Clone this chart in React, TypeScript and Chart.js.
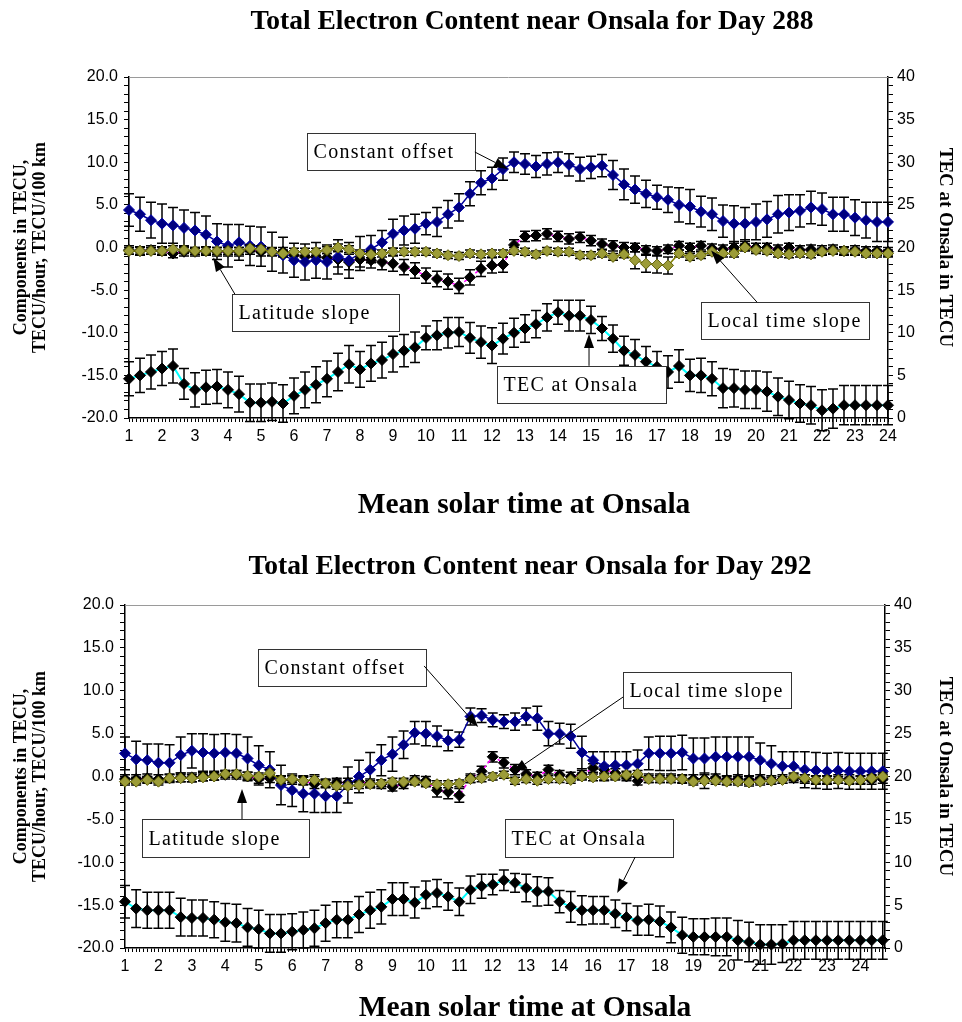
import React, { useEffect, useRef } from 'react';
import { Chart, registerables } from 'chart.js';

Chart.register(...registerables);

const SERIF = '"Liberation Serif", "Times New Roman", Times, serif';
const SANS = '"Liberation Sans", Arial, Helvetica, sans-serif';

// ---------------- shared text ----------------
const xTitleText = 'Mean solar time at Onsala';
const leftTitleText = ['Components in TECU,', 'TECU/hour, TECU/100 km'];
const rightTitleText = 'TEC at Onsala in TECU';
const leftTickValues = [-20, -15, -10, -5, 0, 5, 10, 15, 20];
const rightTickValues = [0, 5, 10, 15, 20, 25, 30, 35, 40];

// ---------------- Day 288 ----------------
const title288 = 'Total Electron Content near Onsala for Day 288';
const hourLabels288 = ['1','2','3','4','5','6','7','8','9','10','11','12','13','14','15','16','17','18','19','20','21','22','23','24'];

const offset288 = [
  4.4, 3.9, 3.2, 2.8, 2.6, 2.3, 2.0, 1.5, 0.7, 0.2,
  0.6, 0.2, 0.1, -0.5, -0.9, -1.5, -1.7, -1.5, -1.7, -1.1,
  -1.5, -0.7, -0.2, 0.6, 1.6, 2.0, 2.2, 2.8, 3.0, 3.9,
  4.7, 6.3, 7.6, 8.1, 9.2, 10.0, 9.8, 9.5, 9.8, 10.0,
  9.7, 9.2, 9.4, 9.6, 8.5, 7.4, 6.8, 6.3, 5.9, 5.6,
  5.0, 4.8, 4.2, 3.9, 3.1, 2.8, 2.8, 3.0, 3.3, 3.9,
  4.1, 4.3, 4.7, 4.5, 3.9, 3.9, 3.5, 3.2, 3.0, 3.0,
];
const offsetErr288 = [
  1.9, 2.0, 2.1, 2.3, 2.1, 2.1, 2.1, 2.2, 2.1, 2.5,
  2.1, 2.3, 2.3, 2.3, 2.1, 2.0, 2.1, 2.1, 2.0, 2.0,
  2.1, 2.0, 1.6, 1.4, 1.7, 1.7, 1.7, 1.3, 1.7, 1.6,
  1.6, 1.4, 1.4, 1.3, 1.3, 1.2, 1.2, 1.3, 1.3, 1.2,
  1.3, 1.4, 1.3, 1.3, 1.7, 1.8, 1.6, 1.6, 1.4, 1.5,
  2.0, 2.0, 1.8, 1.9, 1.9, 2.1, 1.9, 2.1, 2.1, 2.2,
  2.1, 1.9, 1.9, 1.9, 2.0, 2.0, 2.1, 2.1, 2.3, 2.3,
];
const latitude288 = [
  -0.4, -0.4, -0.4, -0.4, -0.2, -0.3, -0.4, -0.4, -0.4, -0.4,
  -0.4, -0.1, -0.2, -0.5, -0.7, -0.5, -0.5, -0.5, -0.3, 0.0,
  -0.2, -0.7, -0.8, -0.7, -0.5, -0.5, -0.5, -0.5, -0.7, -0.9,
  -1.0, -0.7, -0.8, -0.7, -0.7, -0.4, -0.5, -0.8, -0.4, -0.5,
  -0.5, -0.9, -0.9, -0.7, -1.1, -0.8, -1.5, -1.9, -2.0, -2.1,
  -0.7, -1.1, -0.9, -0.5, -0.7, -0.7, 0.0, -0.3, -0.4, -0.7,
  -0.8, -0.7, -0.8, -0.5, -0.4, -0.4, -0.5, -0.7, -0.7, -0.7,
];
const latitudeErr288 = [
  0.4, 0.4, 0.4, 0.4, 0.4, 0.4, 0.4, 0.4, 0.4, 0.4,
  0.4, 0.4, 0.4, 0.4, 0.4, 0.4, 0.4, 0.4, 0.4, 0.4,
  0.4, 0.4, 0.4, 0.4, 0.4, 0.4, 0.4, 0.4, 0.4, 0.4,
  0.4, 0.4, 0.4, 0.4, 0.4, 0.4, 0.4, 0.4, 0.4, 0.4,
  0.4, 0.4, 0.4, 0.4, 0.4, 0.4, 1.0, 1.0, 1.0, 1.0,
  0.4, 0.4, 0.4, 0.4, 0.4, 0.4, 0.4, 0.4, 0.4, 0.4,
  0.4, 0.4, 0.4, 0.4, 0.4, 0.4, 0.4, 0.4, 0.4, 0.4,
];
const localTime288 = [
  -0.3, -0.4, -0.3, -0.4, -0.7, -0.5, -0.5, -0.4, -0.5, -0.5,
  -0.5, -0.3, -0.5, -0.5, -0.5, -0.9, -1.1, -1.1, -1.2, -1.4,
  -1.7, -1.4, -1.5, -1.7, -1.9, -2.3, -2.7, -3.3, -3.7, -4.0,
  -4.5, -3.5, -2.5, -2.1, -2.0, 0.3, 1.3, 1.4, 1.6, 1.3,
  1.0, 1.2, 0.8, 0.4, 0.2, 0.0, 0.0, -0.3, -0.4, -0.2,
  0.2, 0.0, 0.2, -0.1, -0.2, 0.0, 0.2, 0.0, 0.0, -0.2,
  0.0, -0.3, -0.2, -0.3, -0.2, -0.4, -0.3, -0.4, -0.4, -0.5,
];
const localTimeErr288 = [
  0.5, 0.5, 0.5, 0.5, 0.5, 0.5, 0.5, 0.5, 0.5, 0.5,
  0.5, 0.5, 0.5, 0.5, 0.5, 0.5, 0.5, 0.5, 0.5, 0.9,
  0.9, 0.9, 0.9, 0.9, 0.9, 0.9, 0.9, 0.9, 0.9, 0.9,
  0.9, 0.9, 0.9, 0.9, 0.9, 0.6, 0.6, 0.6, 0.6, 0.6,
  0.6, 0.6, 0.6, 0.6, 0.6, 0.6, 0.5, 0.5, 0.5, 0.5,
  0.5, 0.5, 0.5, 0.5, 0.5, 0.5, 0.5, 0.5, 0.5, 0.5,
  0.5, 0.5, 0.5, 0.5, 0.5, 0.5, 0.5, 0.5, 0.5, 0.5,
];
const tec288 = [
  4.6, 5.0, 5.4, 5.8, 6.1, 4.0, 3.3, 3.6, 3.7, 3.3,
  2.8, 1.8, 1.8, 1.9, 1.7, 2.6, 3.3, 3.9, 4.6, 5.4,
  6.3, 5.7, 6.4, 6.8, 7.5, 7.9, 8.3, 9.4, 9.7, 10.0,
  10.1, 9.4, 8.9, 8.5, 9.3, 10.0, 10.5, 11.0, 11.8, 12.4,
  12.0, 12.0, 11.5, 10.5, 9.3, 7.9, 7.4, 6.6, 6.0, 5.4,
  6.1, 5.0, 5.0, 4.6, 3.5, 3.5, 3.3, 3.3, 3.1, 2.5,
  2.1, 1.7, 1.5, 0.9, 1.1, 1.5, 1.5, 1.5, 1.5, 1.5,
];
const tecErr288 = [
  2.0, 2.0, 2.0, 2.0, 2.0, 1.8, 2.0, 2.0, 2.0, 2.1,
  2.1, 2.2, 2.2, 2.2, 2.2, 2.1, 2.1, 2.1, 2.1, 2.2,
  2.2, 2.1, 2.1, 2.1, 2.1, 1.9, 1.8, 1.4, 1.7, 1.8,
  1.7, 1.8, 1.9, 2.1, 1.8, 1.7, 1.6, 1.6, 1.6, 1.4,
  1.8, 1.8, 1.6, 1.4, 1.6, 1.7, 1.8, 1.8, 1.8, 1.9,
  1.9, 1.9, 2.0, 2.0, 2.3, 2.2, 2.2, 2.2, 2.3, 2.2,
  2.2, 2.2, 2.2, 2.4, 2.3, 2.3, 2.3, 2.3, 2.3, 2.3,
];

// ---------------- Day 292 ----------------
const title292 = 'Total Electron Content near Onsala for Day 292';
const hourLabels292 = ['1','2','3','4','5','6','7','8','9','10','11','12','13','14','16','17','18','19','20','21','22','23','24'];

const offset292 = [
  2.7, 2.0, 1.9, 1.6, 1.6, 2.5, 3.0, 2.8, 2.7, 2.8,
  2.7, 2.1, 1.3, 0.8, -1.0, -1.6, -2.0, -2.0, -2.3, -2.3,
  -1.0, 0.0, 0.8, 1.9, 2.6, 3.7, 5.1, 5.0, 4.7, 4.2,
  4.3, 7.0, 7.1, 6.6, 6.4, 6.4, 7.0, 6.8, 5.0, 5.0,
  4.7, 2.8, 1.9, 1.2, 1.3, 1.3, 1.5, 2.7, 2.7, 2.7,
  2.8, 2.1, 2.1, 2.3, 2.3, 2.3, 2.3, 1.9, 1.5, 1.2,
  1.2, 0.8, 0.7, 0.6, 0.7, 0.6, 0.6, 0.6, 0.6,
];
const offsetErr292 = [
  1.9, 2.1, 1.9, 2.2, 2.1, 2.1, 2.0, 2.2, 2.2, 2.2,
  2.2, 2.5, 2.3, 2.1, 2.3, 1.9, 2.1, 2.2, 1.9, 1.9,
  2.1, 1.9, 2.0, 1.8, 2.0, 1.6, 1.3, 1.4, 1.2, 1.2,
  0.9, 1.0, 0.8, 0.8, 0.8, 1.0, 1.0, 1.4, 1.4, 1.2,
  1.4, 1.9, 1.0, 1.7, 1.6, 1.6, 1.6, 1.9, 2.0, 2.0,
  2.0, 2.4, 2.4, 2.3, 2.3, 2.3, 2.3, 2.0, 2.1, 1.7,
  1.7, 2.1, 2.1, 2.1, 2.1, 2.1, 2.1, 2.1, 2.1,
];
const latitude292 = [
  -0.6, -0.6, -0.4, -0.6, -0.2, -0.2, -0.2, -0.1, 0.0, 0.3,
  0.3, 0.1, 0.0, 0.4, -0.4, -0.3, -0.5, -0.4, -0.8, -1.1,
  -1.1, -1.0, -0.9, -0.8, -0.6, -0.6, -0.6, -0.8, -0.9, -0.9,
  -0.8, -0.3, -0.2, 0.0, 0.2, -0.5, -0.3, -0.5, -0.3, -0.3,
  -0.4, 0.0, -0.1, 0.0, 0.0, 0.2, 0.3, -0.3, -0.3, -0.3,
  -0.3, -0.6, -0.5, -0.5, -0.6, -0.6, -0.7, -0.6, -0.5, -0.4,
  0.0, -0.2, -0.4, -0.4, -0.4, -0.5, -0.4, -0.2, 0.0,
];
const latitudeErr292 = [
  0.4, 0.4, 0.4, 0.4, 0.4, 0.4, 0.4, 0.4, 0.4, 0.4,
  0.4, 0.4, 0.4, 0.4, 0.4, 0.4, 0.4, 0.4, 0.4, 0.4,
  0.4, 0.4, 0.4, 0.4, 0.4, 0.4, 0.4, 0.4, 0.4, 0.4,
  0.4, 0.4, 0.4, 0.4, 0.4, 0.4, 0.4, 0.4, 0.4, 0.4,
  0.4, 0.4, 0.4, 0.4, 0.4, 0.4, 0.4, 0.4, 0.4, 0.4,
  0.4, 0.4, 0.9, 0.4, 0.4, 0.4, 0.4, 0.4, 0.4, 0.4,
  0.4, 0.4, 0.4, 0.4, 0.4, 0.4, 0.4, 0.4, 0.4,
];
const localTime292 = [
  -0.3, -0.3, -0.2, -0.3, -0.2, -0.1, -0.1, 0.0, 0.1, 0.2,
  0.2, 0.0, -0.3, -0.2, -0.4, -0.4, -0.5, -0.9, -0.8, -0.7,
  -0.7, -0.6, -0.8, -0.9, -1.2, -0.9, -0.4, -0.5, -1.6, -1.8,
  -2.2, -0.2, 0.6, 2.3, 1.6, 0.8, 0.3, 0.0, 0.8, 0.2,
  0.0, 0.2, 1.0, 0.8, 0.4, 0.0, -0.5, -0.2, -0.2, -0.2,
  -0.3, -0.3, -0.3, -0.2, -0.4, -0.3, -0.4, -0.3, -0.4, -0.3,
  -0.2, -0.3, -0.4, -0.4, -0.3, -0.3, -0.4, -0.4, -0.3,
];
const localTimeErr292 = [
  0.5, 0.5, 0.5, 0.5, 0.5, 0.5, 0.5, 0.5, 0.5, 0.5,
  0.5, 0.5, 0.5, 0.5, 0.5, 0.5, 0.5, 0.5, 0.5, 0.5,
  0.5, 0.5, 0.5, 0.5, 0.5, 0.5, 0.5, 0.5, 0.8, 0.8,
  0.8, 0.5, 0.6, 0.6, 0.6, 0.6, 0.5, 0.5, 0.5, 0.5,
  0.5, 0.5, 0.5, 0.5, 0.5, 0.5, 0.5, 0.5, 0.5, 0.5,
  0.5, 0.5, 0.5, 0.5, 0.5, 0.5, 0.5, 0.5, 0.5, 0.5,
  0.5, 0.5, 0.5, 0.5, 0.5, 0.5, 0.5, 0.5, 0.5,
];
const tec292 = [
  5.4, 4.6, 4.4, 4.4, 4.4, 3.6, 3.5, 3.5, 3.3, 3.0,
  2.9, 2.4, 2.2, 1.7, 1.7, 1.9, 2.1, 2.3, 2.9, 3.3,
  3.3, 3.9, 4.4, 4.8, 5.7, 5.7, 5.3, 6.2, 6.4, 6.0,
  5.4, 6.8, 7.2, 7.4, 7.9, 7.6, 7.0, 6.6, 6.6, 5.4,
  4.8, 4.4, 4.4, 4.4, 4.0, 3.6, 3.2, 3.3, 3.1, 2.4,
  1.5, 1.3, 1.3, 1.3, 1.3, 0.9, 0.7, 0.4, 0.4, 0.5,
  0.9, 0.9, 0.9, 0.9, 0.9, 0.9, 0.9, 0.9, 0.9,
];
const tecErr292 = [
  1.9, 2.2, 2.1, 2.1, 2.1, 2.2, 2.1, 2.1, 2.1, 2.2,
  2.2, 2.2, 2.2, 2.2, 2.2, 2.1, 2.1, 2.1, 2.1, 2.1,
  2.1, 2.1, 2.1, 2.0, 1.9, 1.9, 1.8, 1.6, 1.6, 1.6,
  1.6, 1.6, 1.4, 1.2, 1.2, 1.1, 1.6, 1.7, 1.6, 1.3,
  1.8, 1.7, 1.6, 1.6, 1.6, 1.6, 1.7, 1.8, 1.8, 1.8,
  2.1, 2.1, 2.1, 2.2, 2.2, 2.3, 2.3, 2.3, 2.3, 2.2,
  2.2, 2.2, 2.2, 2.2, 2.2, 2.2, 2.2, 2.2, 2.2,
];

// ---------------- annotations (data units: x axis, left y axis) ----------------
type Note = { text: string; x: number; y: number; w: number; h: number; from: [number, number]; to: [number, number] };

const notes288: Note[] = [
  { text: 'Constant offset', x: 6.39, y: 13.41, w: 168, h: 37, from: [11.48, 11.2], to: [12.48, 9.21] },
  { text: 'Latitude slope', x: 4.12, y: -5.48, w: 167, h: 37, from: [4.21, -5.48], to: [3.55, -1.17] },
  { text: 'Local time slope', x: 18.33, y: -6.41, w: 168, h: 37, from: [20.03, -6.41], to: [18.64, -0.35] },
  { text: 'TEC at Onsala', x: 12.15, y: -13.88, w: 169, h: 37, from: [14.94, -13.88], to: [14.94, -10.15] },
];
const notes292: Note[] = [
  { text: 'Constant offset', x: 11.94, y: 14.87, w: 168, h: 37, from: [26.84, 12.89], to: [31.69, 5.77] },
  { text: 'Latitude slope', x: 1.53, y: -4.96, w: 167, h: 38, from: [10.5, -4.96], to: [10.5, -1.46] },
  { text: 'Local time slope', x: 44.7, y: 12.19, w: 168, h: 36, from: [44.7, 9.27], to: [34.83, 0.52] },
  { text: 'TEC at Onsala', x: 34.11, y: -4.96, w: 168, h: 38, from: [45.78, -9.39], to: [44.17, -13.59] },
];

type Panel = {
  title: string; titlePos: [number, number]; xTitlePos: [number, number]; canvasH: number;
  xs: number[]; xMin: number; xMax: number; minorStep: number; labelStart: number; labelEvery: number; xLabels: string[];
  padTop: number; xAxisH: number; leftW: number; rightW: number;
  offset: number[]; offsetErr: number[]; lat: number[]; latErr: number[];
  local: number[]; localErr: number[]; tec: number[]; tecErr: number[]; notes: Note[];
};

const panel288: Panel = {
  title: title288, titlePos: [532, 22], xTitlePos: [524, 505], canvasH: 530,
  xs: offset288.map((_, i) => 1 + i / 3),
  xMin: 1, xMax: 24, minorStep: 1 / 9, labelStart: 1, labelEvery: 1, xLabels: hourLabels288,
  padTop: 77, xAxisH: 112, leftW: 129, rightW: 74,
  offset: offset288, offsetErr: offsetErr288, lat: latitude288, latErr: latitudeErr288,
  local: localTime288, localErr: localTimeErr288, tec: tec288, tecErr: tecErr288, notes: notes288,
};

const panel292: Panel = {
  title: title292, titlePos: [530, 37], xTitlePos: [525, 478], canvasH: 492,
  xs: offset292.map((_, i) => i),
  xMin: 0, xMax: 68.2, minorStep: 1 / 3, labelStart: 0, labelEvery: 3, xLabels: hourLabels292,
  padTop: 75, xAxisH: 74, leftW: 125, rightW: 77,
  offset: offset292, offsetErr: offsetErr292, lat: latitude292, latErr: latitudeErr292,
  local: localTime292, localErr: localTimeErr292, tec: tec292, tecErr: tecErr292, notes: notes292,
};

function makeDecor(p: Panel, errs: number[][]) {
  return {
    id: 'decor',
    beforeDatasetDraw(chart: any, args: any) {
      const err = errs[args.index];
      if (!err) return;
      const meta = args.meta;
      const xs = meta.xScale, ys = meta.yScale;
      const data = chart.data.datasets[args.index].data;
      const ctx = chart.ctx;
      ctx.save();
      ctx.strokeStyle = '#000';
      ctx.lineWidth = 1.5;
      ctx.beginPath();
      data.forEach((pt: any, i: number) => {
        const e = err[i];
        if (!e) return;
        const x = xs.getPixelForValue(pt.x);
        const y1 = ys.getPixelForValue(pt.y + e);
        const y2 = ys.getPixelForValue(pt.y - e);
        ctx.moveTo(x, y1); ctx.lineTo(x, y2);
        ctx.moveTo(x - 5, y1); ctx.lineTo(x + 5, y1);
        ctx.moveTo(x - 5, y2); ctx.lineTo(x + 5, y2);
      });
      ctx.stroke();
      ctx.restore();
    },
    afterDraw(chart: any) {
      const ctx = chart.ctx;
      const a = chart.chartArea;
      const xs = chart.scales.x, ys = chart.scales.y;
      ctx.save();
      // plot area top border
      ctx.strokeStyle = '#9a9a9a';
      ctx.lineWidth = 1;
      ctx.beginPath();
      ctx.moveTo(a.left, a.top + 0.5);
      ctx.lineTo(a.right, a.top + 0.5);
      ctx.stroke();
      // titles
      ctx.fillStyle = '#000';
      ctx.textAlign = 'center';
      ctx.textBaseline = 'middle';
      ctx.font = `bold 27.5px ${SERIF}`;
      ctx.fillText(p.title, p.titlePos[0], p.titlePos[1]);
      ctx.font = `bold 29.5px ${SERIF}`;
      ctx.fillText(xTitleText, p.xTitlePos[0], p.xTitlePos[1]);
      // annotations
      p.notes.forEach((n) => {
        const bx = Math.round(xs.getPixelForValue(n.x)) + 0.5;
        const by = Math.round(ys.getPixelForValue(n.y)) + 0.5;
        ctx.fillStyle = '#fff';
        ctx.fillRect(bx, by, n.w, n.h);
        ctx.strokeStyle = '#333';
        ctx.lineWidth = 1;
        ctx.strokeRect(bx, by, n.w, n.h);
        ctx.fillStyle = '#000';
        ctx.textAlign = 'left';
        ctx.textBaseline = 'middle';
        ctx.font = `20px ${SERIF}`;
        try { (ctx as any).letterSpacing = '1.3px'; } catch (e) { /* ignore */ }
        ctx.fillText(n.text, bx + 6, by + n.h / 2 + 1);
        try { (ctx as any).letterSpacing = '0px'; } catch (e) { /* ignore */ }
        const fx = xs.getPixelForValue(n.from[0]), fy = ys.getPixelForValue(n.from[1]);
        const tx = xs.getPixelForValue(n.to[0]), ty = ys.getPixelForValue(n.to[1]);
        const ang = Math.atan2(ty - fy, tx - fx);
        const L = 14, W = 5;
        const baseX = tx - L * Math.cos(ang), baseY = ty - L * Math.sin(ang);
        ctx.strokeStyle = '#000';
        ctx.lineWidth = 1;
        ctx.beginPath();
        ctx.moveTo(fx, fy);
        ctx.lineTo(baseX, baseY);
        ctx.stroke();
        ctx.beginPath();
        ctx.moveTo(tx, ty);
        ctx.lineTo(baseX + W * Math.sin(ang), baseY - W * Math.cos(ang));
        ctx.lineTo(baseX - W * Math.sin(ang), baseY + W * Math.cos(ang));
        ctx.closePath();
        ctx.fillStyle = '#000';
        ctx.fill();
      });
      ctx.restore();
    },
  };
}

function buildConfig(p: Panel): any {
  const pts = (vals: number[]) => vals.map((v, i) => ({ x: p.xs[i], y: v }));
  const common = { showLine: true, tension: 0, pointStyle: 'rectRot', pointRadius: 5.5, pointHoverRadius: 5.5, pointBorderWidth: 1, clip: false, fill: false };
  const datasets = [
    { ...common, label: 'Latitude slope', data: pts(p.lat), yAxisID: 'y', borderColor: '#808000', borderWidth: 1.5, pointBackgroundColor: '#9c9c38', pointBorderColor: '#5f5f08' },
    { ...common, label: 'Constant offset', data: pts(p.offset), yAxisID: 'y', borderColor: '#000099', borderWidth: 1.5, pointBackgroundColor: '#000080', pointBorderColor: '#0000a8' },
    { ...common, label: 'Local time slope', data: pts(p.local), yAxisID: 'y', borderColor: '#ff00ff', borderWidth: 1.5, borderDash: [4, 3], pointBackgroundColor: '#000', pointBorderColor: '#000' },
    { ...common, label: 'TEC at Onsala', data: pts(p.tec), yAxisID: 'y1', borderColor: '#00ffff', borderWidth: 2, pointBackgroundColor: '#000', pointBorderColor: '#000' },
  ];
  const errs = [p.latErr, p.offsetErr, p.localErr, p.tecErr];
  const tickFont = { family: SANS, size: 16 };
  const grid = { display: true, drawOnChartArea: false, drawTicks: true, tickLength: 5, color: '#000', lineWidth: 1 };
  const border = { display: true, color: '#000', width: 1.5 };
  return {
    type: 'line',
    data: { datasets },
    plugins: [makeDecor(p, errs)],
    options: {
      responsive: false,
      animation: false,
      events: [],
      layout: { padding: { top: p.padTop, left: 0, right: 0, bottom: 0 } },
      plugins: { legend: { display: false }, tooltip: { enabled: false }, title: { display: false } },
      scales: {
        x: {
          type: 'linear', position: 'bottom', min: p.xMin, max: p.xMax,
          afterFit: (s: any) => { s.height = p.xAxisH; },
          grid: { ...grid, tickLength: 4 }, border,
          ticks: {
            stepSize: p.minorStep, autoSkip: false, maxRotation: 0, minRotation: 0, padding: 5, color: '#000', font: tickFont,
            callback: (v: number) => {
              const k = (v - p.labelStart) / p.labelEvery;
              const r = Math.round(k);
              if (Math.abs(k - r) < 1e-6 && r >= 0 && r < p.xLabels.length) return p.xLabels[r];
              return '';
            },
          },
        },
        y: {
          type: 'linear', position: 'left', min: -20, max: 20,
          afterFit: (s: any) => { s.width = p.leftW; },
          grid, border,
          ticks: {
            stepSize: 1, autoSkip: false, padding: 6, color: '#000', font: tickFont,
            callback: (v: number) => (leftTickValues.includes(Math.round(v)) && Math.abs(v - Math.round(v)) < 1e-6 ? Number(v).toFixed(1) : ''),
          },
          title: { display: true, text: leftTitleText, color: '#000', font: { family: SERIF, size: 18, weight: 'bold', lineHeight: 1.05 }, padding: { top: 12, bottom: 0 } },
        },
        y1: {
          type: 'linear', position: 'right', min: 0, max: 40,
          afterFit: (s: any) => { s.width = p.rightW; },
          grid, border,
          ticks: {
            stepSize: 1, autoSkip: false, padding: 4, color: '#000', font: tickFont,
            callback: (v: number) => (rightTickValues.includes(Math.round(v)) && Math.abs(v - Math.round(v)) < 1e-6 ? String(Math.round(v)) : ''),
          },
          title: { display: true, text: rightTitleText, color: '#000', font: { family: SERIF, size: 19, weight: 'bold', lineHeight: 1.05 }, padding: { top: 7, bottom: 0 } },
        },
      },
    },
  };
}

function PanelChart({ panel }: { panel: Panel }) {
  const ref = useRef<HTMLCanvasElement>(null);
  useEffect(() => {
    const chart = new Chart(ref.current as HTMLCanvasElement, buildConfig(panel));
    return () => chart.destroy();
  }, [panel]);
  return <canvas ref={ref} width={962} height={panel.canvasH} style={{ display: 'block', width: 962, height: panel.canvasH }} />;
}

export default function App() {
  useEffect(() => {
    document.body.style.margin = '0';
    document.body.style.background = '#fff';
  }, []);
  return (
    <div style={{ width: 962, height: 1022, background: '#fff', position: 'absolute', left: 0, top: 0 }}>
      <PanelChart panel={panel288} />
      <PanelChart panel={panel292} />
    </div>
  );
}
